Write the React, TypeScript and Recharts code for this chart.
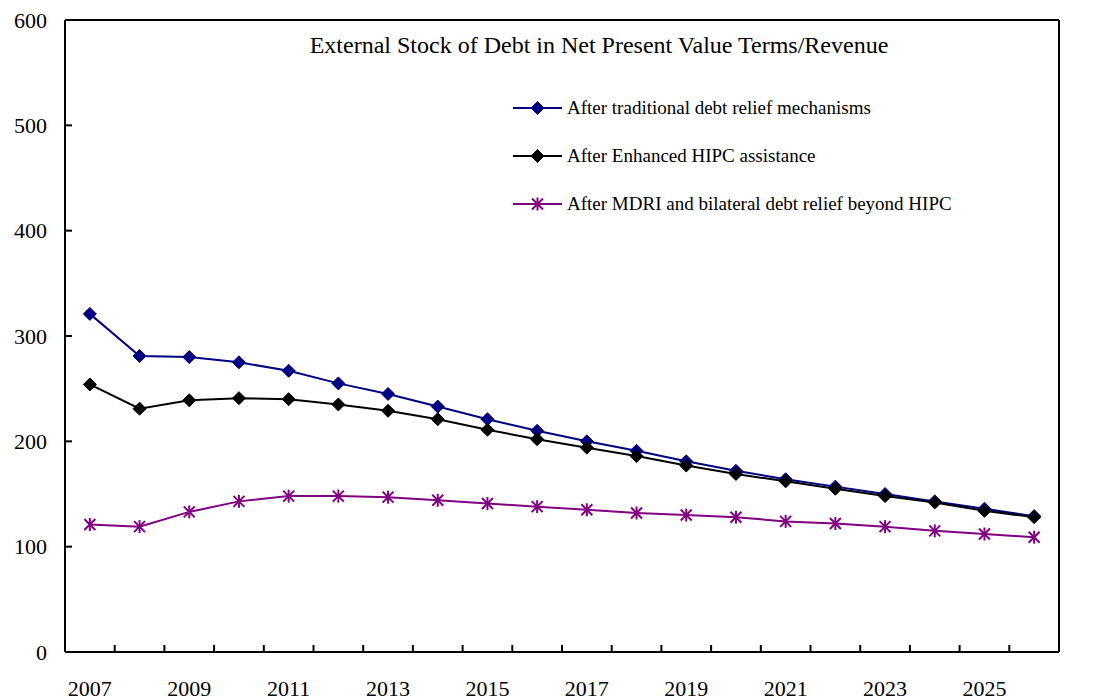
import { LineChart, Line, XAxis, YAxis, ReferenceLine, Legend } from "recharts"

const years = [2007, 2008, 2009, 2010, 2011, 2012, 2013, 2014, 2015, 2016, 2017, 2018, 2019, 2020, 2021, 2022, 2023, 2024, 2025, 2026]
const traditional = [321, 281, 280, 275, 267, 255, 245, 233, 221, 210, 200, 191, 181, 172, 164, 157, 150, 143, 136, 129]
const enhancedHipc = [254, 231, 239, 241, 240, 235, 229, 221, 211, 202, 194, 186, 177, 169, 162, 155, 148, 142, 134, 128]
const mdri = [121, 119, 133, 143, 148, 148, 147, 144, 141, 138, 135, 132, 130, 128, 124, 122, 119, 115, 112, 109]

const yearLabels = [2007, 2009, 2011, 2013, 2015, 2017, 2019, 2021, 2023, 2025]
const yearBoundaries = [2007.5, 2008.5, 2009.5, 2010.5, 2011.5, 2012.5, 2013.5, 2014.5, 2015.5, 2016.5, 2017.5, 2018.5, 2019.5, 2020.5, 2021.5, 2022.5, 2023.5, 2024.5, 2025.5]
const valueTicks = [0, 100, 200, 300, 400, 500, 600]

const title = "External Stock of Debt in Net Present Value Terms/Revenue"

const series = [
    { key: "traditional", name: "After traditional debt relief mechanisms", color: "#000080", marker: "diamond" },
    { key: "enhanced", name: "After Enhanced HIPC assistance", color: "#000000", marker: "diamond" },
    { key: "mdri", name: "After MDRI and bilateral debt relief beyond HIPC", color: "#800080", marker: "star" },
]

const chartData = years.map((year, i) => ({
    year,
    traditional: traditional[i],
    enhanced: enhancedHipc[i],
    mdri: mdri[i],
}))

const xTicks = [...yearLabels, ...yearBoundaries].sort((a, b) => a - b)

const serif = '"Liberation Serif", "Times New Roman", serif'
const TICK_LEN = 7
const X_MARGIN = 28
const LEFT_MARGIN = 18
const RIGHT_MARGIN = 19

function Marker({ cx, cy, color, kind }: { cx: number; cy: number; color: string; kind: string }) {
    if (kind === "diamond") {
        const r = 6.5
        return <polygon points={`${cx},${cy - r} ${cx + r},${cy} ${cx},${cy + r} ${cx - r},${cy}`} fill={color} stroke={color} strokeWidth={1} />
    }
    const r = 6.5
    const d = 5.5
    return (
        <g stroke={color} strokeWidth={2}>
            <line x1={cx} y1={cy - r} x2={cx} y2={cy + r} />
            <line x1={cx - d} y1={cy - d} x2={cx + d} y2={cy + d} />
            <line x1={cx - d} y1={cy + d} x2={cx + d} y2={cy - d} />
        </g>
    )
}

// labels on odd years, inward tick marks between years
function YearTick({ x, y, payload }: any) {
    const v = payload.value
    if (yearLabels.includes(v)) {
        return (
            <text x={x} y={y} dy="0.71em" textAnchor="middle" fontFamily={serif} fontSize={22} fill="#000">
                {v}
            </text>
        )
    }
    return <line x1={x} x2={x} y1={y - X_MARGIN} y2={y - X_MARGIN - TICK_LEN} stroke="#000" strokeWidth={2} />
}

function ValueTick({ x, y, payload, side }: any) {
    const v = payload.value
    const left = side === "left"
    const axisX = left ? x + LEFT_MARGIN : x - RIGHT_MARGIN
    const inner = v !== 0 && v !== 600
    return (
        <g>
            {inner && <line x1={axisX} x2={left ? axisX + TICK_LEN : axisX - TICK_LEN} y1={y} y2={y} stroke="#000" strokeWidth={2} />}
            <text x={x} y={y} dy="0.355em" textAnchor={left ? "end" : "start"} fontFamily={serif} fontSize={22} fill="#000">
                {v}
            </text>
        </g>
    )
}

function LegendBox() {
    return (
        <div style={{ fontFamily: serif, fontSize: 19, color: "#000" }}>
            {series.map((s) => (
                <div key={s.key} style={{ display: "flex", alignItems: "center", height: 48 }}>
                    <svg width={52} height={20} style={{ marginRight: 2 }}>
                        <line x1={0} y1={10} x2={49} y2={10} stroke={s.color} strokeWidth={2} />
                        <Marker cx={24.5} cy={10} color={s.color} kind={s.marker} />
                    </svg>
                    <span>{s.name}</span>
                </div>
            ))}
        </div>
    )
}

export default function App() {
    return (
        <div style={{ position: "absolute", left: 0, top: 0, width: 1120, height: 700, background: "#fff" }}>
            <div
                style={{
                    position: "absolute",
                    left: 199,
                    top: 33,
                    width: 800,
                    textAlign: "center",
                    fontFamily: serif,
                    fontSize: 24,
                    lineHeight: 1,
                    color: "#000",
                    zIndex: 2,
                }}
            >
                {title}
            </div>
            <LineChart width={1120} height={700} data={chartData} margin={{ top: 20, right: 0, bottom: 0, left: 0 }}>
                <XAxis
                    dataKey="year"
                    type="number"
                    domain={[2006.5, 2026.5]}
                    ticks={xTicks}
                    interval={0}
                    height={48}
                    tickLine={false}
                    tickSize={0}
                    tickMargin={X_MARGIN}
                    axisLine={{ stroke: "#000", strokeWidth: 2 }}
                    tick={<YearTick />}
                />
                <YAxis
                    yAxisId="left"
                    domain={[0, 600]}
                    ticks={valueTicks}
                    interval={0}
                    width={65}
                    tickLine={false}
                    tickSize={0}
                    tickMargin={LEFT_MARGIN}
                    axisLine={{ stroke: "#000", strokeWidth: 2 }}
                    tick={<ValueTick side="left" />}
                />
                <YAxis
                    yAxisId="right"
                    orientation="right"
                    domain={[0, 600]}
                    ticks={valueTicks}
                    interval={0}
                    width={61}
                    tickLine={false}
                    tickSize={0}
                    tickMargin={RIGHT_MARGIN}
                    axisLine={{ stroke: "#000", strokeWidth: 2 }}
                    tick={<ValueTick side="right" />}
                />
                <ReferenceLine yAxisId="left" y={600} stroke="#000" strokeWidth={2} />
                <Legend
                    layout="horizontal"
                    align="center"
                    verticalAlign="middle"
                    content={<LegendBox />}
                    wrapperStyle={{ position: "absolute", left: 513, top: 84, width: "auto" }}
                />
                {series.map((s) => (
                    <Line
                        key={s.key}
                        yAxisId="left"
                        dataKey={s.key}
                        name={s.name}
                        stroke={s.color}
                        strokeWidth={2}
                        isAnimationActive={false}
                        dot={(p: any) => <Marker key={p.index} cx={p.cx} cy={p.cy} color={s.color} kind={s.marker} />}
                        activeDot={false}
                    />
                ))}
            </LineChart>
        </div>
    )
}
